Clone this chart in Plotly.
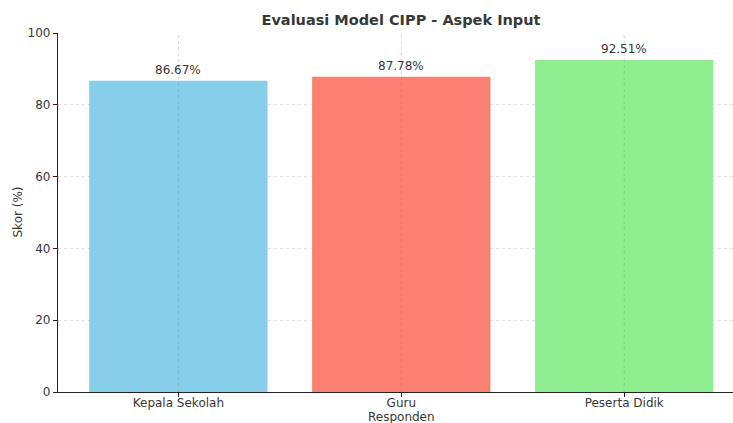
import plotly.graph_objects as go

categories = ["Kepala Sekolah", "Guru", "Peserta Didik"]
scores = [86.67, 87.78, 92.51]
colors = ["#87CEEB", "#FA8072", "#90EE90"]
y_ticks = [0, 20, 40, 60, 80, 100]

FONT = "DejaVu Sans"
TXT = "#383838"

fig = go.Figure()
fig.add_trace(go.Bar(
    x=list(range(len(categories))), y=scores, width=0.8,
    marker=dict(color=colors, line=dict(width=0)),
    hoverinfo="skip",
))

for i, v in enumerate(scores):
    fig.add_annotation(x=i, y=v, text=f"{v:.2f}%", showarrow=False,
                       yanchor="bottom", yshift=2,
                       font=dict(family=FONT, size=12, color=TXT))

# vertical grid lines drawn over bars (as in reference)
for i in range(len(categories)):
    fig.add_shape(type="line", xref="x", yref="paper", x0=i, x1=i, y0=0, y1=1,
                  line=dict(color="rgba(120,120,120,0.3)", width=1, dash="dot"),
                  layer="above")

fig.add_annotation(xref="paper", yref="paper", x=0, y=0.5, xshift=-41,
                   text="Skor (%)", textangle=-90, showarrow=False,
                   xanchor="center", yanchor="middle",
                   font=dict(family=FONT, size=12, color=TXT))
fig.add_annotation(xref="paper", yref="paper", x=(401-58)/675, y=0, yshift=-25,
                   text="Responden", showarrow=False,
                   xanchor="center", yanchor="middle",
                   font=dict(family=FONT, size=12, color=TXT))

fig.update_layout(
    width=733, height=423,
    margin=dict(l=58, r=0, t=33, b=31),
    paper_bgcolor="white", plot_bgcolor="white",
    showlegend=False,
    title=dict(text="<b>Evaluasi Model CIPP - Aspek Input</b>",
               x=(401)/733, xanchor="center", y=1 - 20/423, yanchor="middle",
               font=dict(family=FONT, size=14.5, color=TXT)),
    font=dict(family=FONT, size=12, color=TXT),
)
fig.update_xaxes(
    range=[-0.54, 2.488], tickmode="array",
    tickvals=list(range(len(categories))), ticktext=categories,
    showgrid=False, zeroline=False,
    showline=True, linecolor="#222222", linewidth=1.2,
    ticks="outside", ticklen=4, tickcolor="#222222",
    ticklabelstandoff=-5,
    tickfont=dict(family=FONT, size=12, color=TXT),
)
fig.update_yaxes(
    range=[0, 100], tickmode="array", tickvals=y_ticks,
    showgrid=True, gridcolor="rgba(150,150,150,0.3)", griddash="dot", gridwidth=1,
    zeroline=False,
    showline=True, linecolor="#222222", linewidth=1.2,
    ticks="outside", ticklen=4, tickcolor="#222222",
    tickfont=dict(family=FONT, size=12, color=TXT),
)

fig.write_html("out.html", config={"displayModeBar": False},
               post_script="document.body.style.margin='0';document.body.style.overflow='hidden';")
